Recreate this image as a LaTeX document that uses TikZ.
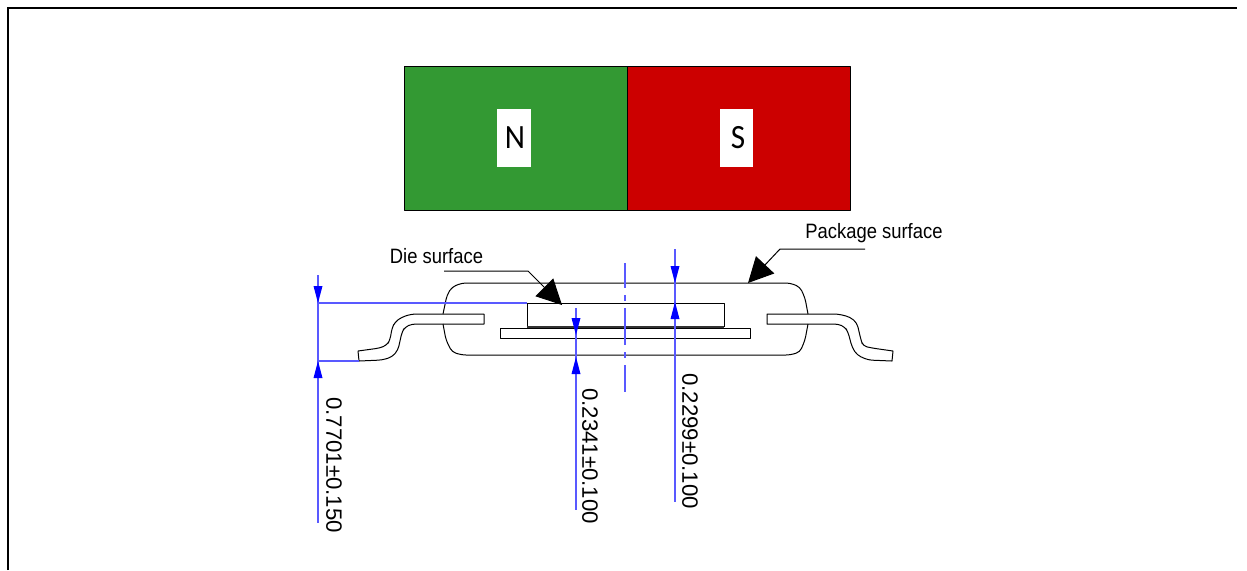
\documentclass[tikz,border=0pt]{standalone}
\usepackage{fontspec}
\setmainfont{Liberation Sans}
\newfontfamily\polefont[FakeStretch=0.92]{Carlito}
\newfontfamily\surfacefont[FakeStretch=0.885]{Liberation Sans}
\usetikzlibrary{arrows.meta}
\definecolor{polegreen}{RGB}{51,153,51}
\definecolor{polered}{RGB}{204,0,0}
\tikzset{
  outline/.style={draw=black,line width=0.5pt,line join=round},
  polebox/.style={fill=white,minimum width=17pt,minimum height=29pt,inner sep=0pt,text=black,font=\polefont\fontsize{17}{17}\selectfont},
  dimline/.style={blue!65,line width=0.6pt},
  dimtip/.style={fill=blue},
  leader/.style={black,line width=0.5pt,-{Triangle[length=12.5pt,width=12.5pt]}},
  surfacelabel/.style={font=\surfacefont\fontsize{10.4}{12}\selectfont,inner sep=0pt},
  dimlabel/.style={font=\fontsize{11.1}{13}\selectfont,inner sep=0pt,rotate=-90},
}
\begin{document}
\begin{tikzpicture}[x=0.5pt,y=-0.5pt]
\useasboundingbox (0,0) rectangle (1247,570);
% frame
\draw[line width=1pt] (8,570) -- (8,8) -- (1237,8);
% magnet
\filldraw[fill=polegreen,outline] (404,66) rectangle (627,210);
\filldraw[fill=polered,outline] (627,66) rectangle (850,210);
\node[polebox] (npole) at (513.5,138) {\kern1.5pt N};
\node[polebox,minimum width=16.5pt] (spole) at (736.5,138) {\kern1.5pt S};
% package body
\draw[outline,rounded corners=2pt] (443,314) -- (447,295) -- (452,287) -- (462,283) -- (790,283) -- (800,287) -- (805,298) -- (808,314);
\draw[outline,rounded corners=2pt] (443,324) -- (446,340) -- (452,352) -- (462,355) -- (790,355) -- (800,352) -- (805,340) -- (808,324);
% leads
\draw[outline] (484,314) [rounded corners=2pt] -- (412,314) -- (402,317) -- (395,322) -- (392,328) -- (390,340) -- (387,345) -- (380,348)
  [sharp corners] -- (358,351) -- (359,361) [rounded corners=2pt] -- (382,360) -- (392,357) -- (398,350) -- (402,332) -- (405,327) -- (412,324) [sharp corners] -- (484,324) -- cycle;
\draw[outline] (767,314) [rounded corners=2pt] -- (838,314) -- (850,317) -- (857,323) -- (861,340) -- (863,346) -- (872,348)
  [sharp corners] -- (893,351) -- (892,361) [rounded corners=2pt] -- (868,360) -- (857,355) -- (852,347) -- (848,332) -- (845,327) -- (838,324) [sharp corners] -- (767,324) -- cycle;
% die and pad
\draw[outline] (527,327) -- (527,303) -- (724,303) -- (724,327);
\draw[black!80,line width=1pt] (527,327) -- (724,327);
\draw[outline] (500,328) rectangle (750,338);
% centre line
\draw[dimline,dash pattern=on 18.5pt off 3.5pt on 3pt off 3.5pt,dash phase=6pt] (625,263) -- (625,392);
% dimensions
\foreach \dx/\dtop/\dbot/\atip/\btip in {318/275/523/303/361,576/308/510/335/357,675/249/502/283/302}{
  \draw[dimline] (\dx,\dtop) -- (\dx,\dbot);
  \fill[dimtip] (\dx-4.5,\atip-17) -- (\dx+4.5,\atip-17) -- (\dx,\atip) -- cycle;
  \fill[dimtip] (\dx-4.5,\btip+17) -- (\dx+4.5,\btip+17) -- (\dx,\btip) -- cycle;
}
\draw[dimline] (318,303) -- (527,303);
\draw[dimline] (318,361) -- (359,361);
\node[dimlabel] (lblheight) at (334,465) {0.7701±0.150};
\node[dimlabel] (lbldie) at (590,456) {0.2341±0.100};
\node[dimlabel] (lblpkg) at (690,441) {0.2299±0.100};
% surface labels
\node[surfacelabel] (diesurf) at (436.5,256) {Die surface};
\node[surfacelabel] (pkgsurf) at (874,233) {Package surface};
\coordinate (dieend) at (444,271);
\coordinate (pkgend) at (865,249);
\coordinate (dietip) at (562,305);
\coordinate (pkgtip) at (748,283);
\draw[leader] (dieend) -- (528,271) -- (dietip);
\draw[leader] (pkgend) -- (780,249) -- (pkgtip);
\end{tikzpicture}
\end{document}
